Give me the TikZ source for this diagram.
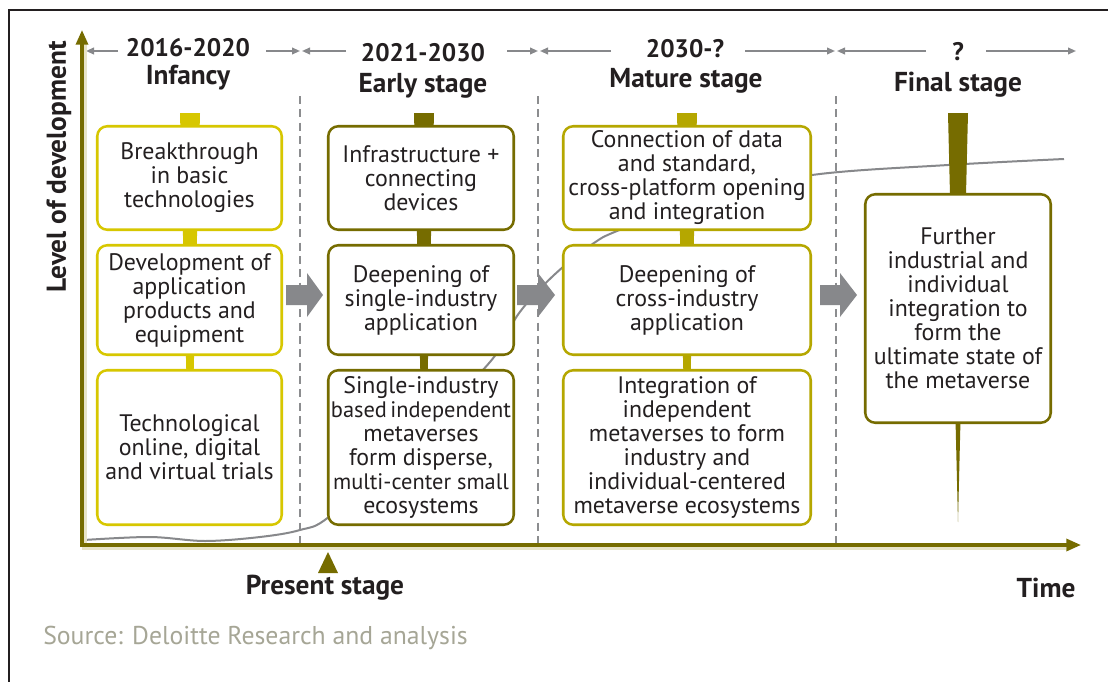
\documentclass[tikz,border=0pt]{standalone}
\usepackage{fontspec}
\setmainfont{PT Sans}
\usetikzlibrary{arrows.meta,calc}

\definecolor{ink}{RGB}{35,31,32}
\definecolor{yelA}{RGB}{215,199,0}
\definecolor{yelB}{RGB}{181,167,0}
\definecolor{oliveD}{RGB}{118,108,0}
\definecolor{axisHalo}{RGB}{232,228,200}
\definecolor{greyA}{RGB}{135,136,139}
\definecolor{greyDash}{RGB}{140,141,143}
\definecolor{sourceGrey}{RGB}{166,166,150}

\newcommand{\tightline}[1]{{\fontsize{16.8}{18}\selectfont #1}}

\tikzset{
  box/.style={draw, line width=1.9pt, rounded corners=7.5pt, fill=white,
    align=center, inner sep=0pt, text=ink,
    font=\fontsize{17.9}{18}\selectfont},
  boxA/.style={box, draw=yelA},
  boxB/.style={box, draw=oliveD},
  boxC/.style={box, draw=yelB},
  hdrnum/.style={font=\bfseries\fontsize{19}{22}\selectfont, text=ink, inner sep=0pt},
  hdrname/.style={font=\bfseries\fontsize{20.5}{22}\selectfont, text=ink, inner sep=0pt},
  span/.style={draw=greyA, line width=1.3pt, -{Triangle[length=6pt,width=5pt]}},
  divider/.style={draw=greyDash, line width=1.4pt, dash pattern=on 6pt off 4pt},
  growth/.style={draw=greyA, line width=1.5pt},
  flow/.style={fill=greyA},
  axisline/.style={draw=oliveD, line width=2.4pt, -{Triangle[length=11pt,width=9pt]}},
  halo/.style={draw=axisHalo, line width=3.6pt},
  label/.style={font=\bfseries\fontsize{20.5}{22}\selectfont, text=ink, inner sep=0pt}
}

\begin{document}
\begin{tikzpicture}[x=0.75pt,y=-0.75pt]
\useasboundingbox (0,0) rectangle (1108,682);
\fill[white] (0,0) rectangle (1108,682);

% outer frame (top and left edges)
\draw[ink, line width=1.6pt] (9,682) -- (9,10) -- (1108,10);

% stage dividers
\draw[divider] (300,96) -- (300,543);
\draw[divider] (538,96) -- (538,543);
\draw[divider] (836,96) -- (836,543);

% development curve
\draw[growth] plot[smooth, tension=0.55] coordinates {
  (84,540) (150,537) (205,541) (260,537) (300,530) (330,516)
  (410,442) (490,362) (517,316) (540,289) (563,267) (594,243)
  (617,231) (700,199) (812,175) (948,165) (1064,159)};

% tapering stems behind each column
\fill[yelA]   (180,113) -- (200,113) -- (190,522) -- cycle;
\fill[oliveD] (414,113) -- (434,113) -- (424,522) -- cycle;
\fill[yelB]   (677,113) -- (697,113) -- (687,522) -- cycle;
\fill[oliveD] (948,113) -- (968,113) -- (958,522) -- cycle;

% column 1: infancy
\node[boxA, minimum width=184.5*0.75pt, minimum height=103.5*0.75pt] (a1) at (189.5,178)
  {Breakthrough\\in basic\\technologies};
\node[boxA, minimum width=184.5*0.75pt, minimum height=109.5*0.75pt] (a2) at (189.5,300)
  {Development of\\application\\products and\\equipment};
\node[boxA, minimum width=184.5*0.75pt, minimum height=154.5*0.75pt] (a3) at (189.5,447.5)
  {Technological\\online, digital\\and virtual trials};

% column 2: early stage
\node[boxB, minimum width=185.5*0.75pt, minimum height=103.5*0.75pt] (b1) at (421,178)
  {Infrastructure +\\connecting\\devices};
\node[boxB, minimum width=185.5*0.75pt, minimum height=109.5*0.75pt] (b2) at (421,300)
  {Deepening of\\single-industry\\application};
\node[boxB, minimum width=185.5*0.75pt, minimum height=154.5*0.75pt] (b3) at (421,447.5)
  {Single-industry\\\tightline{based\hspace{0.15em}independent}\\metaverses\\form disperse,\\\tightline{multi-center small}\\ecosystems};

% column 3: mature stage
\node[boxC, minimum width=247.5*0.75pt, minimum height=103.5*0.75pt] (c1) at (687,178)
  {Connection of data\\and standard,\\cross-platform opening\\and integration};
\node[boxC, minimum width=247.5*0.75pt, minimum height=109.5*0.75pt] (c2) at (687,300)
  {Deepening of\\cross-industry\\application};
\node[boxC, minimum width=247.5*0.75pt, minimum height=154.5*0.75pt] (c3) at (687,447.5)
  {Integration of\\independent\\metaverses to form\\industry and\\individual-centered\\metaverse ecosystems};

% column 4: final stage
\node[boxB, minimum width=185.5*0.75pt, minimum height=228.5*0.75pt] (d1) at (958,308.5)
  {Further\\industrial and\\individual\\integration to\\form the\\ultimate state of\\the metaverse};

% transition arrows between stages
\fill[flow] (286,285) -- (307,285) -- (307,273) -- (323,295) -- (307,317) -- (307,305) -- (286,305) -- cycle;
\fill[flow] (517,285) -- (538,285) -- (538,273) -- (555,295) -- (538,317) -- (538,305) -- (517,305) -- cycle;
\fill[flow] (820,285) -- (840,285) -- (840,273) -- (857,295) -- (840,317) -- (840,305) -- (820,305) -- cycle;

% stage headings
\node[hdrnum]  (h1) at (188,48) {2016-2020};
\node[hdrname] (n1) at (188,78) {Infancy};
\node[hdrnum]  (h2) at (423,53) {2021-2030};
\node[hdrname] (n2) at (423,86) {Early stage};
\node[hdrnum]  (h3) at (685,49) {2030-?};
\node[hdrname] (n3) at (686,81) {Mature stage};
\node[hdrnum]  (h4) at (958,52) {?};
\node[hdrname] (n4) at (958,85) {Final stage};

% period spans
\coordinate (p1a) at (118,51); \coordinate (p1l) at (86,51);
\coordinate (p1b) at (266,51); \coordinate (p1r) at (300,51);
\coordinate (p2a) at (346,51); \coordinate (p2l) at (302,51);
\coordinate (p2b) at (507,51); \coordinate (p2r) at (538,51);
\coordinate (p3a) at (611,51); \coordinate (p3l) at (540,51);
\coordinate (p3b) at (745,51); \coordinate (p3r) at (835,51);
\coordinate (p4a) at (926,51); \coordinate (p4l) at (837,51);
\coordinate (p4b) at (986,51); \coordinate (p4r) at (1076,51);
\draw[span] (p1a) -- (p1l);  \draw[span] (p1b) -- (p1r);
\draw[span] (p2a) -- (p2l);  \draw[span] (p2b) -- (p2r);
\draw[span] (p3a) -- (p3l);  \draw[span] (p3b) -- (p3r);
\draw[span] (p4a) -- (p4l);  \draw[span] (p4b) -- (p4r);

% axes
\coordinate (origin) at (82,545);
\coordinate (ytip) at (82,30);
\coordinate (xtip) at (1081,545);
\draw[halo] (84.5,545) -- (84.5,44);
\draw[halo] (82,547.5) -- (1066,547.5);
\draw[axisline] ([yshift=-1.2pt]origin) -- (ytip);
\draw[axisline] ([xshift=-1.2pt]origin) -- (xtip);

% axis labels
\node[label, rotate=90] (ylab) at (59,167) {Level of development};
\node[label] (tlab) at (1046,588) {Time};

% present marker
\fill[oliveD] (318,573) -- (338,573) -- (328,552) -- cycle;
\node[label] (now) at (325,588) {Present stage};

% source line
\node[font=\fontsize{19.3}{22}\selectfont, text=sourceGrey, anchor=west, inner sep=0pt] (src) at (43,638)
  {Source: Deloitte Research and analysis};
\end{tikzpicture}
\end{document}
